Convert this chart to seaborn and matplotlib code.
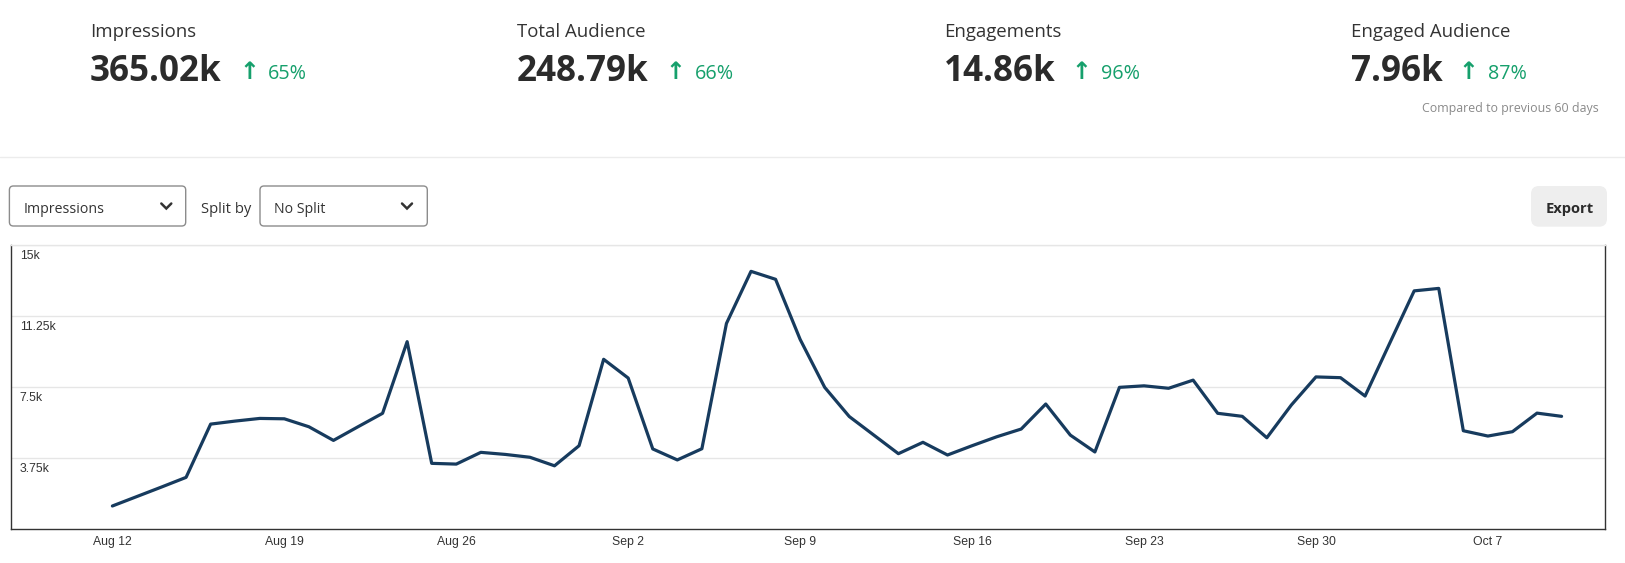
import numpy as np
import pandas as pd
import matplotlib
matplotlib.use('Agg')
from matplotlib import pyplot as plt
import matplotlib.dates as mdates
import matplotlib.transforms as mtransforms
from matplotlib.patches import FancyBboxPatch
import seaborn as sns

sns.set_theme(style='white')
plt.rcParams['font.family'] = ['Liberation Sans', 'DejaVu Sans']

# daily impressions, Aug 12 - Oct 10
start_date = '2024-08-12'
impressions = [1230, 1730, 2230, 2740, 5550, 5710, 5850, 5830, 5410, 4690,
               5410, 6120, 9900, 3480, 3440, 4060, 3950, 3800, 3350, 4410,
               8970, 7980, 4240, 3660, 4250, 10860, 13610, 13190, 10020, 7490,
               5950, 4970, 3990, 4590, 3920, 4410, 4880, 5290, 6610, 4970,
               4080, 7490, 7570, 7440, 7870, 6120, 5960, 4830, 6560, 8040,
               8000, 7030, 9810, 12580, 12710, 5200, 4920, 5150, 6130, 5960]

kpi_names = ['Impressions', 'Total Audience', 'Engagements', 'Engaged Audience']
kpi_values = ['365.02k', '248.79k', '14.86k', '7.96k']
kpi_changes = ['65%', '66%', '96%', '87%']
compare_note = 'Compared to previous 60 days'

y_ticks = [3750, 7500, 11250, 15000]
y_tick_labels = ['3.75k', '7.5k', '11.25k', '15k']

metric_choice = 'Impressions'
split_choice = 'No Split'

dates = pd.date_range(start_date, periods=len(impressions), freq='D')
df = pd.DataFrame({'date': dates, 'impressions': impressions})

W, H = 1625, 563
fig = plt.figure(figsize=(W / 100, H / 100), dpi=100)
fig.patch.set_facecolor('white')

# ---- chart
ax = fig.add_axes([10.7 / W, 1 - 529.3 / H, (1604.8 - 10.7) / W, (529.3 - 245) / H])
sns.lineplot(data=df, x='date', y='impressions', ax=ax, color='#173b5e', linewidth=2.3)
ax.set_xlim(dates[0] - pd.Timedelta(days=4.14), dates[0] + pd.Timedelta(days=60.76))
ax.set_ylim(0, 15000)
ax.set_xlabel('')
ax.set_ylabel('')
ax.set_yticks(y_ticks)
ax.set_yticklabels([])
ax.grid(axis='y', color='#e6e6e6', linewidth=1)
ax.set_xticks(pd.date_range(start_date, dates[-1], freq='7D'))
ax.xaxis.set_major_formatter(mdates.DateFormatter('%b %-d'))
ax.tick_params(axis='x', length=0, pad=5.0, labelsize=8.8, labelcolor='#333333')
ax.tick_params(axis='y', length=0)
for s in ['left', 'right', 'bottom']:
    ax.spines[s].set_color('#333333')
    ax.spines[s].set_linewidth(1.0)
ax.spines['top'].set_color('#e6e6e6')
ax.spines['top'].set_linewidth(1.0)

ytrans = mtransforms.offset_copy(
    mtransforms.blended_transform_factory(ax.transAxes, ax.transData),
    fig=fig, x=9, y=-14, units='dots')
for v, lab in zip(y_ticks, y_tick_labels):
    ax.text(0, v, lab, transform=ytrans, fontsize=8.8, color='#333333',
            ha='left', va='baseline')

# ---- header and controls drawn in pixel coords
ov = fig.add_axes([0, 0, 1, 1])
ov.set_xlim(0, W)
ov.set_ylim(H, 0)
ov.axis('off')
ov.patch.set_visible(False)

ui_font = ['Open Sans', 'DejaVu Sans']
kpi_x = [90, 516.7, 944.3, 1350.6]
arrow_x = [239, 665.5, 1071.3, 1458]
pct_x = [268, 694.6, 1101.5, 1487.7]
green = '#16a06c'
for i in range(4):
    ov.text(kpi_x[i], 37.3, kpi_names[i], fontsize=13.4, color='#333333',
            family=ui_font, va='baseline')
    ov.text(kpi_x[i], 81, kpi_values[i], fontsize=25.2, fontweight='bold',
            color='#2b2b2b', family=ui_font, va='baseline')
    ov.text(arrow_x[i], 79.3, '\u2191', fontsize=17, fontweight='bold', color=green,
            family=['DejaVu Sans'], va='baseline')
    ov.text(pct_x[i], 79.3, kpi_changes[i], fontsize=14.2, color=green,
            family=ui_font, va='baseline')
ov.text(1599, 112, compare_note, fontsize=8.9, color='#8a8a8a',
        family=ui_font, ha='right', va='baseline')
ov.plot([0, W], [156.7, 156.7], color='#ececec', linewidth=1)

# dropdowns
for x0, x1, label, chev in [(9.4, 185.7, metric_choice, 166.3),
                            (260, 427.3, split_choice, 407)]:
    ov.add_patch(FancyBboxPatch((x0, 186), x1 - x0, 40,
                                boxstyle='round,pad=0,rounding_size=4',
                                facecolor='white', edgecolor='#8c8c8c', linewidth=1))
    ov.text(x0 + 14.5, 213.3, label, fontsize=10.2, color='#333333',
            family=ui_font, va='baseline')
    ov.plot([chev - 5, chev, chev + 5], [203.5, 208.5, 203.5],
            color='#333333', linewidth=1.8, solid_capstyle='round',
            solid_joinstyle='miter')
ov.text(201.4, 213.3, 'Split by', fontsize=10.6, color='#333333',
        family=ui_font, va='baseline')

ov.add_patch(FancyBboxPatch((1531, 186), 76, 40.7,
                            boxstyle='round,pad=0,rounding_size=8',
                            facecolor='#eeeeee', edgecolor='none'))
ov.text(1569.3, 213.3, 'Export', fontsize=10.6, fontweight='bold',
        color='#2b2b2b', family=ui_font, ha='center', va='baseline')

fig.savefig('out.png', dpi=100, facecolor='white')
